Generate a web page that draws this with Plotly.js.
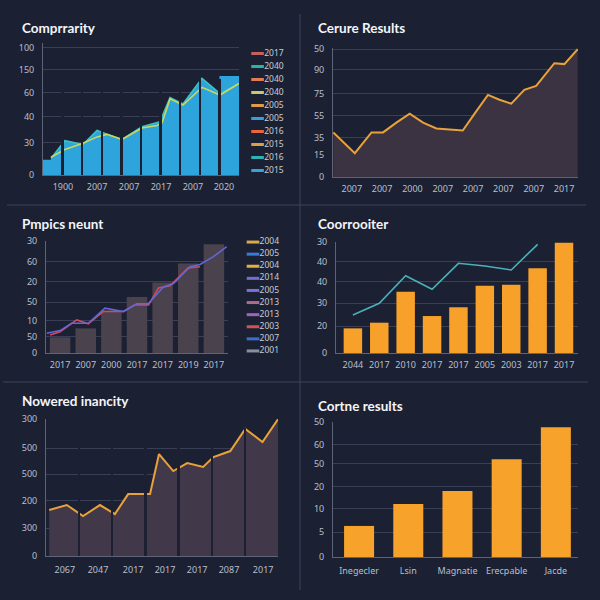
<!DOCTYPE html>
<html><head><meta charset="utf-8">
<script src="https://cdn.plot.ly/plotly-3.0.1.min.js"></script>
<style>html,body{margin:0;padding:0;background:#1b2132;}#chart{width:600px;height:600px;}</style>
</head><body><div id="chart"></div>
<script>
// ---------- Panel 1 : Comprrarity ----------
const p1Title = 'Comprrarity';
const p1BarX = [0.5, 1.5, 2.5, 3.5, 4.5, 5.5, 6.5, 7.5, 8.5, 9.5];
const p1Bars = [12, 24, 24, 28, 28, 38, 42, 56, 64, 78];
const p1AreaX = [0.41, 1.12, 2.04, 2.76, 3.27, 4.03, 5.05, 5.71, 5.97, 6.48, 7.14, 8.11, 9.03, 10];
const p1Area = [13, 27, 24, 35, 32, 28, 38, 41, 42, 61, 56, 76, 64, 72];
const p1LineX = [0.41, 1.12, 2.04, 2.76, 3.27, 4.03, 5.05, 5.82, 6.07, 6.48, 7.14, 8.11, 9.03, 10];
const p1Line = [14, 20, 25, 30, 32, 28, 37, 39, 41, 60, 55, 69, 63, 72];
const p1XTickVals = [1.02, 2.76, 4.39, 6.02, 7.65, 9.23];
const p1XTickText = ['1900', '2007', '2007', '2017', '2007', '2020'];
const p1YTickVals = [0, 25.2, 45.7, 64.6, 82.7, 100];
const p1YTickText = ['0', '30', '40', '60', '150', '100'];
const p1LegendNames = ['2017', '2040', '2040', '2040', '2005', '2005', '2016', '2015', '2016', '2015'];
const p1LegendColors = ['#c2625c', '#27b89b', '#e27c57', '#c9c96c', '#e29c48', '#3a9fd8', '#e8663a', '#d9a242', '#2fb2b2', '#3aa2d2'];

// ---------- Panel 2 : Cerure Results ----------
const p2Title = 'Cerure Results';
const p2X = [-0.61, 0.1, 0.65, 1.03, 1.47, 1.91, 2.35, 2.79, 3.22, 3.66, 4.05, 4.49, 4.87, 5.26, 5.69, 6.08, 6.68, 7.01, 7.45];
const p2Y = [34.9, 18.6, 34.9, 34.9, 42.6, 49.6, 42.6, 38, 37.2, 36.4, 49.6, 64.3, 60.5, 57.4, 68.2, 71.3, 89.1, 88.4, 100];
const p2XTickText = ['2007', '2007', '2000', '2007', '2007', '2007', '2007', '2017'];
const p2YTickVals = [0, 17, 31, 48, 65, 84, 100];
const p2YTickText = ['0', '15', '35', '55', '75', '90', '50'];

// ---------- Panel 3 : Pmpics neunt ----------
const p3Title = 'Pmpics neunt';
const p3Bars = [14, 22, 38, 50, 63, 80, 97];
const p3XTickText = ['2017', '2007', '2000', '2017', '2017', '2019', '2017'];
const p3LineAX = [-0.52, 0, 0.45, 1.1, 1.75, 2.47, 2.99, 3.44, 4.03, 4.42, 5.07, 5.46, 5.98, 6.5];
const p3LineA = [17.6, 20, 26.5, 26.5, 40, 37, 44, 44, 59, 62, 77, 79, 86, 95];
const p3LineBX = [-0.39, 0, 0.65, 1.1, 1.68, 2.47, 2.93, 3.45, 3.84, 4.29, 5.0, 5.46];
const p3LineB = [16, 19, 29.5, 26, 37, 37, 43, 43, 58, 60, 76, 77];
const p3YTickVals = [0, 14.3, 28.6, 45.5, 63.4, 81.3, 100];
const p3YTickText = ['0', '50', '10', '50', '20', '60', '30'];
const p3LegendNames = ['2004', '2005', '2004', '2014', '2005', '2013', '2013', '2003', '2007', '2001'];
const p3LegendColors = ['#dba84a', '#3a7ad8', '#e0b040', '#7a6ad0', '#7a70d8', '#b06a90', '#a060c0', '#d25252', '#3a70c8', '#8890a0'];

// ---------- Panel 4 : Coorrooiter ----------
const p4Title = 'Coorrooiter';
const p4Bars = [22.2, 27.3, 55.2, 33.3, 41.2, 60.6, 61.5, 76.3, 99.4];
const p4Line = [34.2, 44.8, 69.6, 57.4, 80.8, 78.4, 74.8, 97.9];
const p4XTickText = ['2044', '2017', '2010', '2017', '2017', '2005', '2003', '2017', '2017'];
const p4YTickVals = [0, 24.3, 45, 64, 82, 100];
const p4YTickText = ['0', '20', '30', '40', '40', '30'];

// ---------- Panel 5 : Nowered inancity ----------
const p5Title = 'Nowered inancity';
const p5X = [0.1, 0.63, 1.12, 1.63, 2.08, 2.48, 3.14, 3.41, 3.84, 4.26, 4.74, 5.05, 5.56, 6.01, 6.53, 7.0];
const p5Y = [168, 186, 146, 186, 153, 226, 226, 372, 310, 339, 325, 361, 383, 464, 416, 500];
const p5XTickVals = [0.57, 1.57, 2.63, 3.59, 4.56, 5.52, 6.55];
const p5XTickText = ['2067', '2047', '2017', '2017', '2017', '2087', '2017'];
const p5YTickVals = [0, 102, 201, 299, 394, 500];
const p5YTickText = ['0', '300', '200', '500', '500', '300'];

// ---------- Panel 6 : Cortne results ----------
const p6Title = 'Cortne results';
const p6Cats = ['Inegecler', 'Lsin', 'Magnatie', 'Erecpable', 'Jacde'];
const p6Bars = [23, 39.3, 48.9, 72.4, 96.1];
const p6YTickVals = [0, 18.5, 35.6, 52, 69, 83, 100];
const p6YTickText = ['0', '5', '10', '20', '50', '60', '50'];

// ---------- styling helpers ----------
const BG = '#1b2132';
const GRID = '#394055';
const AXL = '#5d6477';
const TICKFONT = {family: 'Noto Sans, Lato, sans-serif', size: 9, color: '#b9bfcc'};
const W = 600, H = 600;
const dx = (a, b) => [a / W, b / W];
const dy = (top, bottom) => [1 - bottom / H, 1 - top / H];
const idx = arr => arr.map((_, i) => i);

function xAxis(n, domain, range, vals, text, extra) {
  const a = {
    anchor: 'y' + n, domain: domain, range: range,
    ticks: '', showgrid: false, zeroline: false, showline: true, linecolor: AXL, linewidth: 1,
    tickfont: TICKFONT, ticklabelstandoff: 3, ticklabeloverflow: 'allow', fixedrange: true
  };
  if (vals) { a.tickmode = 'array'; a.tickvals = vals; a.ticktext = text; }
  return Object.assign(a, extra || {});
}
function yAxis(n, domain, range, vals, text) {
  return {
    anchor: 'x' + n, domain: domain, range: range, tickmode: 'array', tickvals: vals, ticktext: text,
    ticks: '', showgrid: true, gridcolor: GRID, gridwidth: 1, zeroline: false,
    showline: true, linecolor: AXL, linewidth: 1, tickfont: TICKFONT, ticklabelstandoff: 6,
    ticklabeloverflow: 'allow', fixedrange: true
  };
}
function legendTrace(names, colors, xa, ya) {
  return {
    type: 'scatter', mode: 'markers+text', xaxis: xa, yaxis: ya,
    x: names.map(() => 0), y: idx(names), text: names, textposition: 'middle right',
    textfont: {family: 'Noto Sans, Lato, sans-serif', size: 8.5, color: '#c8ccd6'},
    marker: {symbol: 'line-ew', size: 9, color: colors, line: {width: 3, color: colors}},
    cliponaxis: false, hoverinfo: 'skip', showlegend: false
  };
}

const traces = [
  // panel 1
  {type: 'bar', x: p1BarX, y: p1Bars, width: 1, marker: {color: '#2ea4dc', line: {width: 0}}, xaxis: 'x', yaxis: 'y', hoverinfo: 'skip'},
  {type: 'scatter', mode: 'lines', x: p1AreaX, y: p1Area, fill: 'tozeroy', fillcolor: '#2ea4dc',
   line: {color: '#3fc0c4', width: 1.6}, xaxis: 'x', yaxis: 'y', hoverinfo: 'skip'},
  {type: 'scatter', mode: 'lines', x: p1LineX, y: p1Line, line: {color: '#c9d85c', width: 1.6}, xaxis: 'x', yaxis: 'y', hoverinfo: 'skip'},
  legendTrace(p1LegendNames, p1LegendColors, 'x7', 'y7'),
  // panel 2
  {type: 'scatter', mode: 'lines', x: p2X, y: p2Y, fill: 'tozeroy', fillcolor: '#3b3342',
   line: {color: '#e9a23b', width: 2}, cliponaxis: false, xaxis: 'x2', yaxis: 'y2', hoverinfo: 'skip'},
  // panel 3
  {type: 'bar', x: idx(p3Bars), y: p3Bars, width: 0.8, marker: {color: '#4a424d'}, xaxis: 'x3', yaxis: 'y3', hoverinfo: 'skip'},
  {type: 'scatter', mode: 'lines', x: p3LineBX, y: p3LineB, line: {color: '#d24a5e', width: 1.6}, xaxis: 'x3', yaxis: 'y3', hoverinfo: 'skip'},
  {type: 'scatter', mode: 'lines', x: p3LineAX, y: p3LineA, line: {color: '#6166d9', width: 1.6}, cliponaxis: false, xaxis: 'x3', yaxis: 'y3', hoverinfo: 'skip'},
  legendTrace(p3LegendNames, p3LegendColors, 'x8', 'y8'),
  // panel 4
  {type: 'bar', x: idx(p4Bars), y: p4Bars, width: 0.7, marker: {color: '#f7a12b'}, xaxis: 'x4', yaxis: 'y4', hoverinfo: 'skip'},
  {type: 'scatter', mode: 'lines', x: idx(p4Line), y: p4Line, line: {color: '#4bb0ba', width: 1.6}, xaxis: 'x4', yaxis: 'y4', hoverinfo: 'skip'},
  // panel 5
  {type: 'scatter', mode: 'lines', x: p5X, y: p5Y, fill: 'tozeroy', fillcolor: '#41384a',
   line: {color: '#e9a23b', width: 2}, cliponaxis: false, xaxis: 'x5', yaxis: 'y5', hoverinfo: 'skip'},
  // panel 6
  {type: 'bar', x: p6Cats, y: p6Bars, width: 0.61, marker: {color: '#f7a22b'}, xaxis: 'x6', yaxis: 'y6', hoverinfo: 'skip'}
];

const titleFont = {family: 'Lato, Noto Sans, sans-serif', size: 13.5, color: '#f3f5f9', weight: 700};
function title(text, x, y) {
  return {text: text, xref: 'paper', yref: 'paper', x: x / W, y: 1 - y / H, xanchor: 'left', yanchor: 'middle', showarrow: false, font: titleFont};
}
const SEP = '#3d4559';

const layout = {
  width: W, height: H, margin: {l: 0, r: 0, t: 0, b: 0},
  paper_bgcolor: BG, plot_bgcolor: 'rgba(0,0,0,0)', showlegend: false, hovermode: false,
  xaxis: xAxis('', dx(43, 239), [0.003, 9.997], p1XTickVals, p1XTickText, {
    minor: {tickmode: 'linear', tick0: 0, dtick: 1, ticks: 'inside', ticklen: 96, tickwidth: 2.5, tickcolor: BG, showgrid: false}
  }),
  yaxis: yAxis('', dy(42.9, 175), [0, 104], p1YTickVals, p1YTickText),
  xaxis2: xAxis(2, dx(333, 578), [-0.62, 7.46], idx(p2XTickText), p2XTickText),
  yaxis2: yAxis(2, dy(48, 177), [0, 101], p2YTickVals, p2YTickText),
  xaxis3: xAxis(3, dx(46, 228), [-0.55, 6.55], idx(p3XTickText), p3XTickText),
  yaxis3: yAxis(3, dy(241, 353), [0, 100], p3YTickVals, p3YTickText),
  xaxis4: xAxis(4, dx(336, 578), [-0.64, 8.53], idx(p4XTickText), p4XTickText),
  yaxis4: yAxis(4, dy(242, 353), [0, 100], p4YTickVals, p4YTickText),
  xaxis5: xAxis(5, dx(46, 278), [0.003, 6.997], p5XTickVals, p5XTickText, {
    ticklabelstandoff: 5,
    minor: {tickmode: 'linear', tick0: 0, dtick: 1, ticks: 'inside', ticklen: 128, tickwidth: 2.5, tickcolor: BG, showgrid: false}
  }),
  yaxis5: yAxis(5, dy(419, 556), [0, 500], p5YTickVals, p5YTickText),
  xaxis6: xAxis(6, dx(333, 578), [-0.53, 4.45], null, null, {ticklabelstandoff: 5, type: 'category'}),
  yaxis6: yAxis(6, dy(422, 557), [0, 100], p6YTickVals, p6YTickText),
  xaxis7: {anchor: 'y7', domain: dx(243, 295), range: [-0.28, 0.72], visible: false, fixedrange: true},
  yaxis7: {anchor: 'x7', domain: dy(47, 177), range: [9.5, -0.5], visible: false, fixedrange: true},
  xaxis8: {anchor: 'y8', domain: dx(240, 296), range: [-0.232, 0.768], visible: false, fixedrange: true},
  yaxis8: {anchor: 'x8', domain: dy(236, 357), range: [9.5, -0.5], visible: false, fixedrange: true},
  annotations: [
    title(p1Title, 20, 28), title(p2Title, 316, 28), title(p3Title, 20, 224),
    title(p4Title, 316, 224), title(p5Title, 20, 401), title(p6Title, 316, 406)
  ],
  shapes: [
    {type: 'line', xref: 'paper', yref: 'paper', x0: 0.5, x1: 0.5, y0: 1 - 590 / H, y1: 1 - 14 / H, line: {color: SEP, width: 1}},
    {type: 'line', xref: 'paper', yref: 'paper', x0: 7 / W, x1: 586 / W, y0: 1 - 205 / H, y1: 1 - 205 / H, line: {color: SEP, width: 1}},
    {type: 'line', xref: 'paper', yref: 'paper', x0: 3 / W, x1: 588 / W, y0: 1 - 382 / H, y1: 1 - 382 / H, line: {color: SEP, width: 1}}
  ]
};

Plotly.newPlot('chart', traces, layout, {staticPlot: true, displayModeBar: false});
</script></body></html>
